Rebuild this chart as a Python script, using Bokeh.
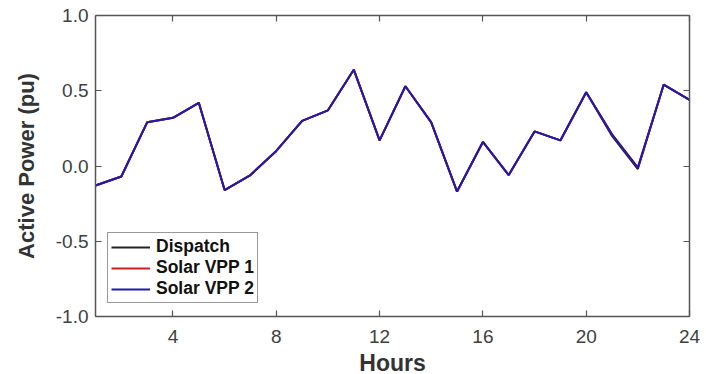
from bokeh.plotting import figure
from bokeh.models import LinearAxis, FixedTicker, Range1d, Legend, LegendItem, CustomJSTickFormatter
from bokeh.embed import file_html
from bokeh.resources import INLINE

# Hourly active power set-points (pu)
hours = list(range(1, 25))
solar_vpp2 = [-0.13, -0.07, 0.29, 0.32, 0.42, -0.16, -0.06, 0.10, 0.30, 0.37, 0.64, 0.17,
              0.53, 0.29, -0.17, 0.16, -0.06, 0.23, 0.17, 0.49, 0.21, -0.01, 0.54, 0.44]
solar_vpp1 = [-0.13, -0.07, 0.29, 0.32, 0.42, -0.16, -0.06, 0.10, 0.30, 0.37, 0.64, 0.17,
              0.53, 0.29, -0.17, 0.16, -0.06, 0.23, 0.17, 0.49, 0.21, -0.01, 0.54, 0.44]
dispatch = [-0.13, -0.07, 0.29, 0.32, 0.42, -0.16, -0.06, 0.10, 0.30, 0.37, 0.64, 0.17,
            0.53, 0.29, -0.17, 0.16, -0.06, 0.23, 0.17, 0.49, 0.20, -0.02, 0.54, 0.44]

x_ticks = [4, 8, 12, 16, 20, 24]
y_ticks = [-1.0, -0.5, 0.0, 0.5, 1.0]

AXIS_COLOR = "#555555"
TEXT_COLOR = "#404040"
FONT = "Liberation Sans"

p = figure(width=707, height=374, output_backend="svg", toolbar_location=None,
           x_range=Range1d(1, 24), y_range=Range1d(-1, 1),
           frame_width=594, frame_height=301,
           min_border_left=95, min_border_right=18, min_border_top=15, min_border_bottom=58)
p.background_fill_color = "white"
p.border_fill_color = "white"
p.outline_line_color = None
p.grid.visible = False

r_disp = p.line(hours, dispatch, line_color="#222222", line_width=2)
r_vpp1 = p.line(hours, solar_vpp1, line_color="#cc2020", line_width=2)
r_vpp2 = p.line(hours, solar_vpp2, line_color="#2018b0", line_width=2)

fmt = CustomJSTickFormatter(code="return tick.toFixed(1);")
blank = CustomJSTickFormatter(code="return '';")

xa = p.xaxis[0]
xa.ticker = FixedTicker(ticks=x_ticks)
xa.axis_label = "Hours"
ya = p.yaxis[0]
ya.ticker = FixedTicker(ticks=y_ticks)
ya.formatter = fmt
ya.axis_label = "Active Power (pu)"

for ax in (xa, ya):
    ax.axis_line_color = AXIS_COLOR
    ax.axis_line_width = 1.5
    ax.major_tick_line_color = AXIS_COLOR
    ax.major_tick_line_width = 1.2
    ax.major_tick_in = 6
    ax.major_tick_out = 0
    ax.minor_tick_line_color = None
    ax.major_label_text_font = FONT
    ax.major_label_text_font_size = "19px"
    ax.major_label_text_color = TEXT_COLOR
    ax.axis_label_text_font = FONT
    ax.axis_label_text_font_size = "22px"
    ax.axis_label_text_font_style = "bold"
    ax.axis_label_text_color = "#333333"
xa.axis_label_text_font_size = "23px"
xa.major_label_standoff = 13
xa.axis_label_standoff = 4
ya.major_label_standoff = 7
ya.axis_label_standoff = 14

# box edges with inward ticks, no labels
top = LinearAxis(ticker=FixedTicker(ticks=x_ticks), formatter=blank)
right = LinearAxis(ticker=FixedTicker(ticks=y_ticks), formatter=blank)
for ax in (top, right):
    ax.axis_line_color = AXIS_COLOR
    ax.axis_line_width = 1.5
    ax.major_tick_line_color = AXIS_COLOR
    ax.major_tick_line_width = 1.2
    ax.major_tick_in = 6
    ax.major_tick_out = 0
    ax.minor_tick_line_color = None
    ax.major_label_standoff = 0
p.add_layout(top, "above")
p.add_layout(right, "right")

legend = Legend(items=[
    LegendItem(label="Dispatch", renderers=[r_disp]),
    LegendItem(label="Solar VPP 1", renderers=[r_vpp1]),
    LegendItem(label="Solar VPP 2", renderers=[r_vpp2]),
], location=(12, 13))
legend.label_text_font = FONT
legend.label_text_font_size = "17.5px"
legend.label_text_font_style = "bold"
legend.label_text_color = "#111111"
legend.glyph_width = 39
legend.glyph_height = 14
legend.label_height = 16
legend.label_standoff = 6
legend.spacing = 0
legend.padding = 3
legend.margin = 0
legend.border_line_color = "#333333"
legend.border_line_width = 1
legend.background_fill_alpha = 1.0
p.add_layout(legend, "center")

open("out.html", "w").write(file_html(p, INLINE))
